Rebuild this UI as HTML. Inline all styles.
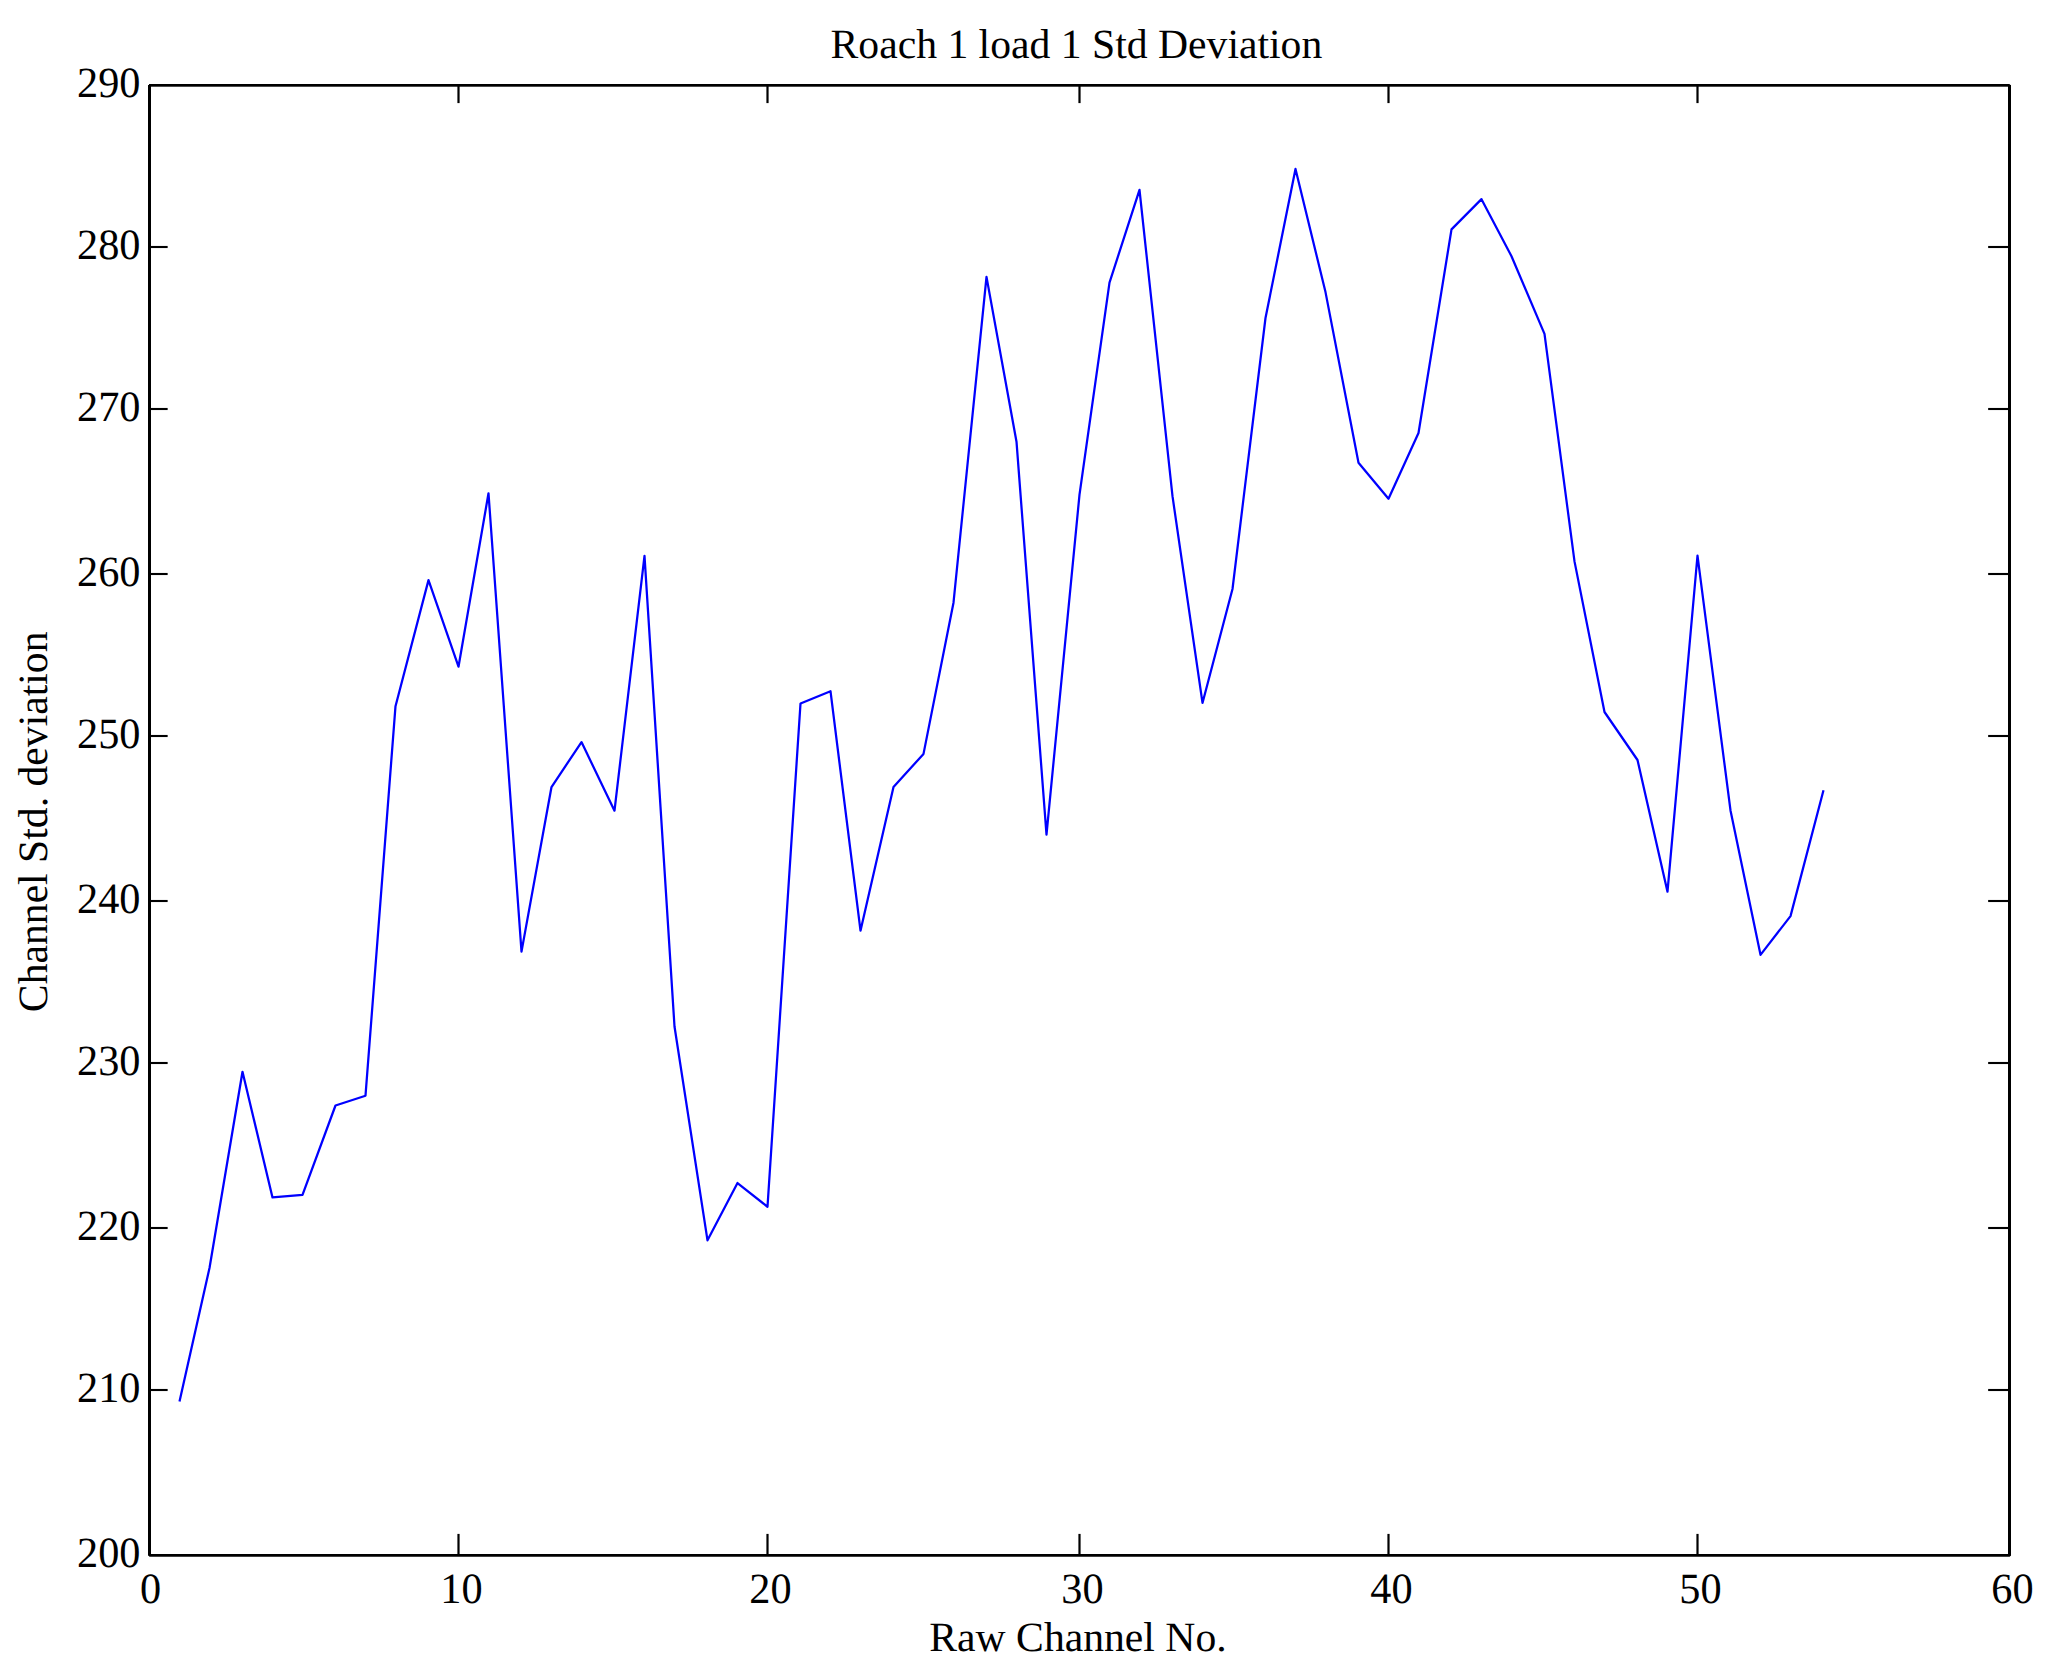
<!DOCTYPE html>
<html lang="en">
<head>
<meta charset="utf-8">
<title>Roach 1 load 1 Std Deviation</title>
<style>
html,body{margin:0;padding:0;background:#fff;}
body{width:2046px;height:1671px;overflow:hidden;}
svg{display:block;}
text{font-family:"Liberation Serif","Times New Roman",Times,serif;font-size:41.67px;fill:#000;text-rendering:geometricPrecision;}
.tk text{font-size:42.3px;}
</style>
</head>
<body>
<svg width="2046" height="1671" viewBox="0 0 2046 1671">
<rect x="0" y="0" width="2046" height="1671" fill="#ffffff"/>
<polyline fill="none" stroke="#0000ff" stroke-width="2.25" stroke-linejoin="round" stroke-linecap="butt" points="179.5,1401.60 209.5,1268.00 242.5,1071.80 272.5,1197.40 302.5,1194.90 335.5,1105.50 365.5,1095.70 395.5,706.20 428.5,580.10 458.5,666.70 488.5,493.30 521.5,951.60 551.5,787.00 581.5,742.10 614.5,810.70 644.5,555.90 674.5,1026.50 707.5,1240.30 737.5,1183.05 767.5,1206.75 800.5,703.50 830.5,691.20 860.5,930.65 893.5,787.10 923.5,753.90 953.5,602.70 986.5,276.85 1016.5,441.70 1046.5,834.55 1079.5,494.70 1109.5,282.70 1139.5,189.80 1172.5,496.20 1202.5,702.95 1232.5,589.00 1265.5,318.00 1295.5,168.95 1325.5,292.10 1358.5,462.70 1388.5,498.75 1418.5,433.00 1451.5,229.40 1481.5,199.15 1511.5,256.20 1544.5,333.90 1574.5,561.40 1604.5,712.00 1637.5,760.00 1667.5,891.65 1697.5,555.70 1730.5,810.40 1760.5,954.85 1790.5,916.10 1823.5,790.20"/>
<g fill="#000" shape-rendering="geometricPrecision">
<rect x="457.40" y="1533.90" width="2.20" height="21.10"/>
<rect x="457.40" y="85.50" width="2.20" height="17.60"/>
<rect x="766.40" y="1533.90" width="2.20" height="21.10"/>
<rect x="766.40" y="85.50" width="2.20" height="17.60"/>
<rect x="1078.40" y="1533.90" width="2.20" height="21.10"/>
<rect x="1078.40" y="85.50" width="2.20" height="17.60"/>
<rect x="1387.40" y="1533.90" width="2.20" height="21.10"/>
<rect x="1387.40" y="85.50" width="2.20" height="17.60"/>
<rect x="1696.40" y="1533.90" width="2.20" height="21.10"/>
<rect x="1696.40" y="85.50" width="2.20" height="17.60"/>
<rect x="149.50" y="1388.95" width="18.15" height="2.10"/>
<rect x="1988.15" y="1388.95" width="21.35" height="2.10"/>
<rect x="149.50" y="1226.95" width="18.15" height="2.10"/>
<rect x="1988.15" y="1226.95" width="21.35" height="2.10"/>
<rect x="149.50" y="1061.95" width="18.15" height="2.10"/>
<rect x="1988.15" y="1061.95" width="21.35" height="2.10"/>
<rect x="149.50" y="899.95" width="18.15" height="2.10"/>
<rect x="1988.15" y="899.95" width="21.35" height="2.10"/>
<rect x="149.50" y="734.95" width="18.15" height="2.10"/>
<rect x="1988.15" y="734.95" width="21.35" height="2.10"/>
<rect x="149.50" y="572.95" width="18.15" height="2.10"/>
<rect x="1988.15" y="572.95" width="21.35" height="2.10"/>
<rect x="149.50" y="407.95" width="18.15" height="2.10"/>
<rect x="1988.15" y="407.95" width="21.35" height="2.10"/>
<rect x="149.50" y="245.95" width="18.15" height="2.10"/>
<rect x="1988.15" y="245.95" width="21.35" height="2.10"/>
</g>
<g fill="#000">
<rect x="148" y="85" width="3" height="1470.30"/>
<rect x="2008" y="84.9" width="3" height="1470.50"/>
<rect x="149" y="84" width="1860.80" height="2.7"/>
<path d="M148,1554 L2011,1554 L2011,1555.4 L2009.6,1556.75 L149.6,1556.75 L148,1555.3 Z"/>
</g>
<g class="tk" text-anchor="middle">
<text transform="translate(150.6,1603.0) scale(1,1.02)">0</text>
<text transform="translate(461.5,1603.0) scale(1,1.02)">10</text>
<text transform="translate(770.5,1603.0) scale(1,1.02)">20</text>
<text transform="translate(1082.5,1603.0) scale(1,1.02)">30</text>
<text transform="translate(1391.5,1603.0) scale(1,1.02)">40</text>
<text transform="translate(1700.5,1603.0) scale(1,1.02)">50</text>
<text transform="translate(2012.5,1603.0) scale(1,1.02)">60</text>
</g>
<g class="tk" text-anchor="end">
<text transform="translate(140.5,97.2) scale(1,1.02)">290</text>
<text transform="translate(140.5,259.2) scale(1,1.02)">280</text>
<text transform="translate(140.5,421.2) scale(1,1.02)">270</text>
<text transform="translate(140.5,586.2) scale(1,1.02)">260</text>
<text transform="translate(140.5,748.2) scale(1,1.02)">250</text>
<text transform="translate(140.5,913.2) scale(1,1.02)">240</text>
<text transform="translate(140.5,1075.2) scale(1,1.02)">230</text>
<text transform="translate(140.5,1240.2) scale(1,1.02)">220</text>
<text transform="translate(140.5,1402.2) scale(1,1.02)">210</text>
<text transform="translate(140.5,1567.2) scale(1,1.02)">200</text>
</g>
<text x="1076.4" y="58.0" text-anchor="middle">Roach 1 load 1 Std Deviation</text>
<text x="1078.0" y="1651.2" text-anchor="middle">Raw Channel No.</text>
<text transform="translate(47.2,821.8) rotate(-90)" text-anchor="middle">Channel Std. deviation</text>
</svg>
</body>
</html>
